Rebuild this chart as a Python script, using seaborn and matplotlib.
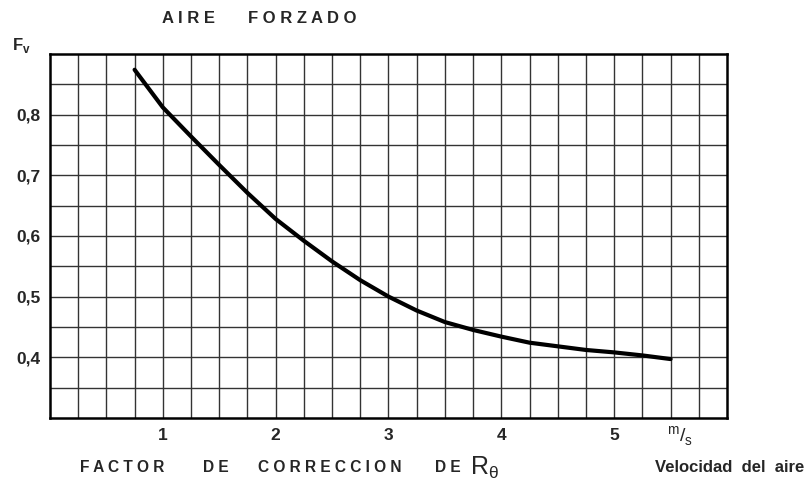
import numpy as np
import pandas as pd
import matplotlib
matplotlib.use("Agg")
import matplotlib.pyplot as plt
import seaborn as sns

# curve: air speed (m/s) -> correction factor Fv
velocidad = [0.75, 1.0, 1.25, 1.5, 1.75, 2.0, 2.25, 2.5, 2.75, 3.0,
             3.25, 3.5, 3.75, 4.0, 4.25, 4.5, 4.75, 5.0, 5.25, 5.5]
factor_fv = [0.874, 0.812, 0.764, 0.717, 0.671, 0.628, 0.592, 0.558, 0.527, 0.500,
             0.477, 0.458, 0.445, 0.434, 0.424, 0.418, 0.412, 0.408, 0.403, 0.397]

x_ticks = [1, 2, 3, 4, 5]
y_ticks = [0.4, 0.5, 0.6, 0.7, 0.8]
y_tick_labels = ["0,4", "0,5", "0,6", "0,7", "0,8"]

sns.set_style("white")
plt.rcParams["font.family"] = ["Liberation Sans", "DejaVu Sans"]

df = pd.DataFrame({"v": velocidad, "fv": factor_fv})

fig = plt.figure(figsize=(8.06, 4.82), dpi=100)
ax = fig.add_axes([0.062, 0.133, 0.840, 0.755])

# grid every 0.25 m/s and every 0.05 in Fv
for gx in np.arange(0.25, 6.0, 0.25):
    ax.axvline(gx, color="#333333", lw=1.0, zorder=1)
for gy in np.arange(0.35, 0.9, 0.05):
    ax.axhline(gy, color="#333333", lw=1.0, zorder=1)

sns.lineplot(data=df, x="v", y="fv", ax=ax, color="black", lw=3.0, zorder=3)

ax.set_xlim(0, 6)
ax.set_ylim(0.3, 0.9)
for s in ax.spines.values():
    s.set_linewidth(1.8)
    s.set_color("black")

ax.set_xticks(x_ticks)
ax.set_xticklabels([str(t) for t in x_ticks], fontsize=12.5, fontweight="bold")
ax.set_yticks(y_ticks)
ax.set_yticklabels(y_tick_labels, fontsize=12.5, fontweight="bold")
ax.tick_params(length=0, pad=7)
ax.set_xlabel("")
ax.set_ylabel("")

W = 806.0
bold = dict(fontweight="bold", va="center")
# title words
fig.text(162 / W, 0.962, "A I R E", fontsize=12, **bold)
fig.text(248 / W, 0.962, "F O R Z A D O", fontsize=12, **bold)
fig.text(0.015, 0.905, r"F$_\mathregular{v}$", fontsize=12, **bold)
fig.text(0.828, 0.095, r"$^\mathregular{m}$/$_\mathregular{s}$", fontsize=14, va="center")
# bottom caption, word by word
for word, xpx in [("F A C T O R", 80), ("D E", 203), ("C O R R E C C I O N", 258), ("D E", 435)]:
    fig.text(xpx / W, 0.030, word, fontsize=11.2, **bold)
fig.text(470 / W, 0.030, r"R$_\mathregular{\theta}$", fontsize=18, va="center")
fig.text(0.998, 0.030, "Velocidad  del  aire", fontsize=12, fontweight="bold",
         ha="right", va="center")

fig.savefig("out.png", dpi=100)
